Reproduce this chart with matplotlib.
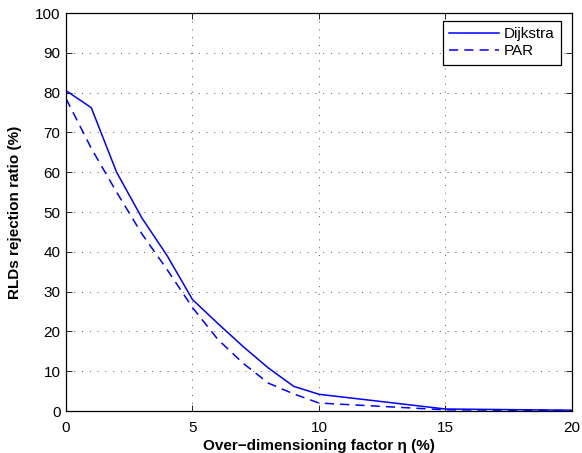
import matplotlib
matplotlib.use("Agg")
import matplotlib.pyplot as plt

plt.rcParams['font.family'] = ['Liberation Sans', 'DejaVu Sans']

eta = [0, 1, 2, 3, 4, 5, 6, 7, 8, 9, 10, 15, 20]
dijkstra = [80.5, 76.2, 60.0, 48.5, 39.0, 28.0, 22.0, 16.2, 10.8, 6.2, 4.2, 0.5, 0.2]
par = [78.5, 66.0, 55.0, 44.5, 35.5, 26.0, 18.0, 12.0, 7.0, 4.3, 2.0, 0.3, 0.1]

fig = plt.figure(figsize=(5.82, 4.53), dpi=100)
ax = fig.add_axes([0.1134, 0.0927, 0.8694, 0.8786])

ax.plot(eta, dijkstra, color='#0000ff', linestyle='-', linewidth=1.1, label='Dijkstra')
ax.plot(eta, par, color='#0000ff', linestyle=(0, (6, 4)), linewidth=1.1, label='PAR')

ax.set_xlim(0, 20)
ax.set_ylim(0, 100)
ax.set_xticks([0, 5, 10, 15, 20])
ax.set_yticks(range(0, 101, 10))
ax.tick_params(direction='in', length=4, labelsize=11, top=True, right=True, width=0.6)
ax.tick_params(axis='x', pad=7)
ax.tick_params(axis='y', pad=4)
ax.grid(True, linestyle=(0, (1, 7)), color='#555555', linewidth=0.7)
for s in ax.spines.values():
    s.set_linewidth(0.9)

ax.set_xlabel('Over\u2212dimensioning factor \u03b7 (%)', fontsize=11, fontweight='bold', labelpad=3)
ax.set_ylabel('RLDs rejection ratio (%)', fontsize=11, fontweight='bold', labelpad=9)

leg = ax.legend(loc='upper right', bbox_to_anchor=(0.978, 0.98), borderaxespad=0,
                fontsize=11, fancybox=False, framealpha=1, edgecolor='black',
                handlelength=3.3, borderpad=0.4, labelspacing=0.22, handletextpad=0.3)
leg.get_frame().set_linewidth(0.9)

fig.savefig('out.png', dpi=100)
